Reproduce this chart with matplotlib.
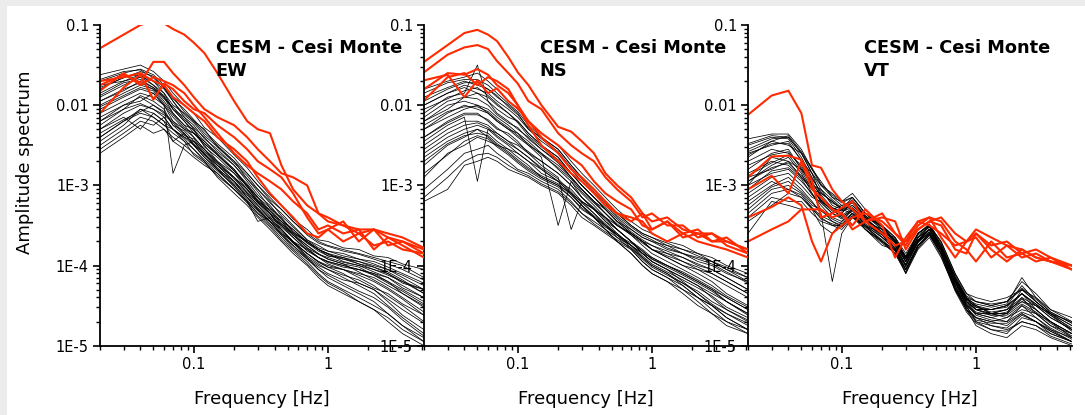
import matplotlib
matplotlib.use('Agg')
import matplotlib.pyplot as plt
import numpy as np
from matplotlib.patches import Rectangle
from matplotlib.ticker import LogLocator, NullFormatter

# frequency grid shared by every spectrum
freq_hz = [0.02, 0.03, 0.04, 0.05, 0.06,
           0.07, 0.085, 0.1, 0.12, 0.15,
           0.2, 0.25, 0.3, 0.37, 0.45,
           0.55, 0.7, 0.85, 1.0, 1.3,
           1.7, 2.2, 2.8, 3.6, 5.2]

# spectra as log10(amplitude)
ew_black = [
    [-1.62, -1.55, -1.50, -1.58, -1.70, -1.85, -2.00, -2.10, -2.28, -2.40, -2.62, -2.78, -2.95, -3.12, -3.25, -3.42, -3.55, -3.68, -3.70, -3.78, -3.80, -3.88, -3.90, -3.98, -4.05],
    [-1.70, -1.60, -1.55, -1.62, -1.75, -1.90, -2.08, -2.20, -2.30, -2.52, -2.70, -2.92, -3.05, -3.22, -3.35, -3.50, -3.68, -3.75, -3.82, -3.85, -3.92, -3.95, -4.02, -4.10, -4.22],
    [-1.80, -1.65, -1.62, -1.70, -1.80, -1.95, -2.15, -2.25, -2.42, -2.55, -2.75, -2.95, -3.12, -3.25, -3.42, -3.55, -3.72, -3.80, -3.86, -3.92, -3.95, -4.02, -4.10, -4.22, -4.30],
    [-1.90, -1.75, -1.65, -1.75, -1.90, -2.05, -2.20, -2.35, -2.45, -2.62, -2.80, -3.02, -3.15, -3.32, -3.45, -3.62, -3.75, -3.86, -3.90, -3.96, -4.00, -4.08, -4.15, -4.28, -4.40],
    [-1.95, -1.80, -1.72, -1.80, -1.95, -2.10, -2.25, -2.30, -2.52, -2.65, -2.85, -3.05, -3.22, -3.35, -3.52, -3.65, -3.82, -3.90, -3.96, -4.02, -4.05, -4.12, -4.20, -4.35, -4.52],
    [-2.05, -1.90, -1.80, -1.85, -2.00, -2.20, -2.30, -2.40, -2.55, -2.72, -2.90, -3.10, -3.25, -3.42, -3.55, -3.72, -3.85, -3.96, -4.02, -4.05, -4.12, -4.20, -4.30, -4.42, -4.62],
    [-2.10, -1.95, -1.85, -1.90, -2.00, -2.85, -2.50, -2.45, -2.62, -2.75, -2.95, -3.15, -3.30, -3.45, -3.62, -3.75, -3.92, -4.02, -4.10, -4.18, -4.22, -4.30, -4.42, -4.55, -4.72],
    [-2.20, -2.00, -1.90, -2.00, -2.10, -2.20, -2.35, -2.50, -2.65, -2.80, -3.02, -3.20, -3.45, -3.40, -3.50, -3.65, -3.80, -3.90, -3.95, -4.00, -4.05, -4.10, -4.15, -4.25, -4.40],
    [-2.30, -2.10, -2.00, -2.05, -2.15, -2.30, -2.40, -2.45, -2.60, -2.75, -2.95, -3.10, -3.25, -3.40, -3.55, -3.70, -3.85, -3.95, -4.02, -4.10, -4.22, -4.30, -4.45, -4.62, -4.80],
    [-2.40, -2.20, -2.10, -2.15, -2.25, -2.35, -2.45, -2.55, -2.70, -2.85, -3.05, -3.20, -3.35, -3.50, -3.65, -3.80, -3.95, -4.10, -4.20, -4.30, -4.40, -4.50, -4.60, -4.75, -4.95],
    [-2.50, -2.30, -2.15, -2.20, -2.30, -2.40, -2.50, -2.60, -2.70, -2.90, -3.10, -3.25, -3.40, -3.55, -3.70, -3.85, -4.00, -4.15, -4.25, -4.35, -4.45, -4.55, -4.70, -4.85, -5.00],
    [-2.60, -2.40, -2.25, -2.35, -2.30, -2.45, -2.55, -2.65, -2.75, -2.85, -3.05, -3.20, -3.35, -3.45, -3.60, -3.70, -3.85, -3.95, -4.00, -4.05, -4.10, -4.15, -4.25, -4.35, -4.50],
    [-2.30, -2.15, -2.30, -2.10, -2.20, -2.45, -2.35, -2.50, -2.60, -2.80, -2.95, -3.15, -3.30, -3.45, -3.55, -3.70, -3.80, -3.90, -3.95, -4.00, -4.05, -4.10, -4.20, -4.30, -4.45],
    [-1.75, -1.70, -1.62, -1.75, -1.85, -2.00, -2.10, -2.20, -2.35, -2.50, -2.70, -2.85, -3.00, -3.15, -3.30, -3.45, -3.60, -3.70, -3.75, -3.80, -3.85, -3.90, -3.95, -4.00, -4.15],
    [-2.15, -2.00, -1.95, -1.85, -2.00, -2.15, -2.30, -2.35, -2.50, -2.70, -2.85, -3.00, -3.20, -3.35, -3.45, -3.60, -3.70, -3.80, -3.85, -3.95, -4.00, -4.05, -4.10, -4.20, -4.30],
    [-1.85, -1.70, -1.65, -1.70, -1.85, -2.05, -2.15, -2.30, -2.45, -2.60, -2.80, -3.00, -3.15, -3.35, -3.55, -3.70, -3.90, -4.05, -4.15, -4.25, -4.35, -4.45, -4.60, -4.75, -4.90],
    [-2.00, -1.85, -1.75, -1.80, -1.90, -2.10, -2.25, -2.40, -2.55, -2.70, -2.90, -3.05, -3.20, -3.30, -3.45, -3.55, -3.70, -3.80, -3.85, -3.90, -3.95, -4.00, -4.05, -4.15, -4.30],
    [-2.45, -2.25, -2.05, -2.10, -2.20, -2.30, -2.40, -2.50, -2.65, -2.80, -3.00, -3.15, -3.30, -3.45, -3.60, -3.75, -3.90, -4.00, -4.05, -4.15, -4.25, -4.35, -4.50, -4.65, -4.85],
    [-1.68, -1.58, -1.56, -1.66, -1.78, -1.92, -2.05, -2.18, -2.32, -2.48, -2.66, -2.85, -3.00, -3.18, -3.30, -3.45, -3.62, -3.72, -3.76, -3.82, -3.86, -3.92, -3.98, -4.05, -4.18],
    [-2.25, -2.05, -1.88, -1.95, -2.05, -2.25, -2.38, -2.42, -2.58, -2.72, -2.92, -3.08, -3.22, -3.38, -3.48, -3.62, -3.78, -3.86, -3.92, -3.98, -4.02, -4.12, -4.22, -4.32, -4.48],
    [-2.55, -2.35, -2.20, -2.25, -2.15, -2.30, -2.42, -2.55, -2.68, -2.82, -3.00, -3.18, -3.32, -3.48, -3.62, -3.78, -3.92, -4.05, -4.12, -4.22, -4.32, -4.40, -4.52, -4.68, -4.88],
    [-1.88, -1.72, -1.68, -1.78, -1.92, -2.02, -2.18, -2.28, -2.40, -2.58, -2.75, -2.92, -3.08, -3.28, -3.40, -3.58, -3.70, -3.80, -3.88, -3.90, -3.98, -4.05, -4.12, -4.20, -4.35],
    [-2.35, -2.18, -2.08, -2.00, -2.08, -2.25, -2.32, -2.45, -2.55, -2.75, -2.90, -3.05, -3.20, -3.35, -3.50, -3.62, -3.78, -3.90, -3.98, -4.05, -4.15, -4.25, -4.38, -4.50, -4.70],
    [-2.02, -1.88, -1.78, -1.82, -1.98, -2.12, -2.28, -2.35, -2.48, -2.62, -2.82, -3.02, -3.18, -3.32, -3.48, -3.60, -3.75, -3.85, -3.92, -3.98, -4.08, -4.18, -4.28, -4.40, -4.58],
    [-1.78, -1.66, -1.58, -1.64, -1.78, -1.95, -2.12, -2.22, -2.38, -2.52, -2.72, -2.88, -3.05, -3.20, -3.38, -3.52, -3.68, -3.78, -3.82, -3.88, -3.92, -3.98, -4.05, -4.12, -4.25],
    [-2.20, -2.05, -1.98, -2.05, -2.12, -2.22, -2.36, -2.48, -2.62, -2.78, -2.98, -3.12, -3.28, -3.42, -3.58, -3.72, -3.88, -3.98, -4.05, -4.12, -4.18, -4.28, -4.35, -4.48, -4.62],
    [-1.95, -1.82, -1.70, -1.78, -1.88, -2.05, -2.20, -2.32, -2.48, -2.62, -2.82, -2.98, -3.15, -3.28, -3.42, -3.58, -3.72, -3.82, -3.88, -3.92, -3.98, -4.02, -4.08, -4.18, -4.35],
    [-2.40, -2.20, -2.05, -2.15, -2.25, -2.30, -2.45, -2.62, -2.72, -2.88, -3.05, -3.22, -3.38, -3.52, -3.68, -3.82, -3.98, -4.12, -4.22, -4.32, -4.45, -4.55, -4.65, -4.80, -4.95],
]
ew_red = [
    [-1.29, -1.12, -1.00, -0.95, -0.98, -1.05, -1.12, -1.22, -1.35, -1.60, -1.95, -2.20, -2.30, -2.35, -2.75, -3.05, -3.25, -3.35, -3.40, -3.50, -3.55, -3.55, -3.60, -3.65, -3.78],
    [-1.75, -1.62, -1.72, -1.46, -1.46, -1.60, -1.75, -1.90, -2.05, -2.15, -2.25, -2.40, -2.55, -2.70, -2.85, -2.90, -3.00, -3.35, -3.45, -3.50, -3.60, -3.55, -3.65, -3.70, -3.85],
    [-2.10, -1.78, -1.62, -1.93, -1.73, -1.80, -1.95, -2.05, -2.10, -2.25, -2.40, -2.55, -2.70, -2.80, -2.90, -3.10, -3.40, -3.60, -3.55, -3.45, -3.70, -3.55, -3.75, -3.70, -3.80],
    [-1.82, -1.60, -1.75, -1.65, -1.70, -1.75, -1.85, -2.00, -2.15, -2.35, -2.60, -2.75, -2.85, -2.95, -3.05, -3.20, -3.35, -3.55, -3.50, -3.60, -3.55, -3.80, -3.65, -3.75, -3.90],
    [-1.70, -1.65, -1.60, -1.70, -1.75, -1.90, -2.00, -2.10, -2.20, -2.40, -2.55, -2.70, -2.90, -3.10, -3.25, -3.40, -3.60, -3.65, -3.55, -3.70, -3.60, -3.75, -3.70, -3.80, -3.85],
]

ns_black = [
    [-1.80, -1.70, -1.65, -1.60, -1.70, -1.80, -1.95, -2.05, -2.20, -2.35, -2.50, -2.70, -2.85, -3.00, -3.15, -3.30, -3.45, -3.55, -3.60, -3.70, -3.75, -3.85, -3.90, -4.00, -4.10],
    [-1.90, -1.78, -1.70, -1.75, -1.80, -1.90, -2.00, -2.10, -2.30, -2.45, -2.60, -2.80, -2.95, -3.10, -3.25, -3.40, -3.55, -3.65, -3.70, -3.80, -3.85, -3.95, -4.00, -4.10, -4.20],
    [-2.00, -1.85, -1.78, -1.85, -1.95, -2.05, -2.15, -2.20, -2.35, -2.50, -2.65, -2.85, -3.00, -3.15, -3.30, -3.45, -3.60, -3.70, -3.75, -3.85, -3.95, -4.05, -4.10, -4.20, -4.35],
    [-2.10, -1.90, -1.85, -1.50, -1.95, -2.10, -2.20, -2.30, -2.40, -2.55, -2.70, -2.90, -3.05, -3.20, -3.35, -3.50, -3.60, -3.70, -3.80, -3.90, -4.00, -4.10, -4.20, -4.35, -4.50],
    [-2.20, -2.00, -1.95, -2.00, -2.05, -2.15, -2.25, -2.35, -2.50, -2.60, -2.80, -2.95, -3.10, -3.25, -3.40, -3.55, -3.70, -3.80, -3.90, -4.00, -4.10, -4.20, -4.30, -4.45, -4.60],
    [-2.30, -2.10, -2.00, -2.05, -2.10, -2.20, -2.30, -2.40, -2.50, -2.65, -3.50, -2.95, -3.15, -3.30, -3.40, -3.55, -3.70, -3.85, -3.95, -4.05, -4.20, -4.35, -4.50, -4.65, -4.80],
    [-2.40, -2.20, -2.10, -2.10, -2.20, -2.30, -2.35, -2.45, -2.60, -2.70, -2.85, -3.00, -3.15, -3.30, -3.45, -3.60, -3.75, -3.90, -4.00, -4.10, -4.25, -4.40, -4.55, -4.70, -4.85],
    [-2.50, -2.30, -2.20, -2.20, -2.25, -2.35, -2.45, -2.50, -2.60, -2.75, -2.90, -3.55, -3.20, -3.30, -3.45, -3.55, -3.70, -3.85, -3.95, -4.05, -4.15, -4.25, -4.35, -4.45, -4.60],
    [-2.60, -2.40, -2.30, -2.25, -2.30, -2.40, -2.50, -2.60, -2.70, -2.80, -2.95, -3.10, -3.25, -3.40, -3.50, -3.65, -3.80, -3.95, -4.05, -4.15, -4.30, -4.45, -4.60, -4.75, -4.85],
    [-2.75, -2.50, -2.40, -2.30, -2.35, -2.45, -2.55, -2.65, -2.75, -2.90, -3.00, -3.10, -3.20, -3.30, -3.40, -3.50, -3.60, -3.70, -3.80, -3.85, -3.90, -4.00, -4.05, -4.15, -4.30],
    [-2.90, -2.60, -2.50, -2.40, -2.45, -2.50, -2.60, -2.70, -2.80, -2.90, -3.00, -3.15, -3.30, -3.40, -3.55, -3.70, -3.85, -4.00, -4.10, -4.20, -4.35, -4.50, -4.60, -4.70, -4.80],
    [-3.05, -2.80, -2.60, -2.55, -2.50, -2.60, -2.70, -2.80, -2.85, -2.95, -3.05, -3.20, -3.35, -3.45, -3.55, -3.65, -3.75, -3.85, -3.95, -4.05, -4.15, -4.25, -4.40, -4.55, -4.70],
    [-3.20, -3.05, -2.75, -2.70, -2.65, -2.70, -2.80, -2.85, -2.90, -3.00, -3.10, -3.25, -3.40, -3.50, -3.60, -3.70, -3.80, -3.95, -4.05, -4.15, -4.25, -4.40, -4.50, -4.60, -4.75],
    [-2.20, -2.05, -1.90, -1.85, -1.90, -2.00, -2.10, -2.20, -2.35, -2.50, -2.65, -2.85, -3.00, -3.15, -3.30, -3.45, -3.55, -3.65, -3.70, -3.75, -3.85, -3.90, -3.95, -4.05, -4.15],
    [-2.45, -2.25, -2.15, -2.95, -2.30, -2.35, -2.45, -2.55, -2.65, -2.80, -2.95, -3.05, -3.20, -3.35, -3.50, -3.60, -3.75, -3.85, -3.90, -4.00, -4.10, -4.20, -4.30, -4.40, -4.55],
    [-2.00, -1.85, -1.75, -1.80, -1.85, -1.95, -2.05, -2.15, -2.30, -2.40, -2.55, -2.75, -2.90, -3.05, -3.20, -3.35, -3.50, -3.60, -3.65, -3.75, -3.80, -3.85, -3.95, -4.05, -4.20],
    [-2.65, -2.45, -2.35, -2.30, -2.40, -2.50, -2.55, -2.60, -2.70, -2.85, -2.95, -3.10, -3.25, -3.40, -3.55, -3.70, -3.85, -4.00, -4.10, -4.20, -4.30, -4.40, -4.50, -4.65, -4.80],
    [-2.30, -2.15, -2.05, -2.00, -2.10, -2.20, -2.30, -2.35, -2.45, -2.60, -2.75, -2.90, -3.05, -3.20, -3.30, -3.45, -3.60, -3.70, -3.80, -3.90, -4.00, -4.05, -4.15, -4.25, -4.40],
    [-1.85, -1.72, -1.68, -1.68, -1.75, -1.85, -1.98, -2.08, -2.25, -2.40, -2.55, -2.75, -2.90, -3.05, -3.20, -3.35, -3.50, -3.60, -3.65, -3.72, -3.80, -3.88, -3.95, -4.02, -4.15],
    [-2.15, -1.95, -1.90, -1.92, -2.00, -2.12, -2.22, -2.28, -2.42, -2.55, -2.72, -2.90, -3.05, -3.20, -3.35, -3.50, -3.62, -3.75, -3.85, -3.95, -4.05, -4.15, -4.25, -4.38, -4.52],
    [-2.55, -2.35, -2.25, -2.22, -2.28, -2.38, -2.48, -2.55, -2.65, -2.78, -2.92, -3.08, -3.22, -3.35, -3.48, -3.62, -3.78, -3.92, -4.02, -4.12, -4.22, -4.35, -4.48, -4.60, -4.72],
    [-2.85, -2.62, -2.45, -2.38, -2.42, -2.52, -2.62, -2.72, -2.82, -2.92, -3.02, -3.15, -3.28, -3.40, -3.52, -3.62, -3.72, -3.82, -3.92, -4.00, -4.08, -4.18, -4.28, -4.40, -4.55],
    [-2.25, -2.08, -2.02, -2.02, -2.08, -2.18, -2.28, -2.38, -2.48, -2.62, -2.78, -2.92, -3.08, -3.22, -3.35, -3.48, -3.62, -3.72, -3.80, -3.88, -3.95, -4.02, -4.10, -4.20, -4.35],
    [-3.15, -2.90, -2.70, -2.62, -2.60, -2.65, -2.75, -2.82, -2.88, -2.98, -3.08, -3.22, -3.35, -3.48, -3.58, -3.68, -3.78, -3.90, -4.00, -4.10, -4.22, -4.32, -4.45, -4.55, -4.68],
    [-1.95, -1.80, -1.72, -1.72, -1.80, -1.88, -2.02, -2.12, -2.28, -2.42, -2.58, -2.78, -2.92, -3.08, -3.22, -3.38, -3.52, -3.62, -3.68, -3.78, -3.85, -3.92, -3.98, -4.08, -4.22],
    [-2.40, -2.22, -2.12, -2.12, -2.18, -2.28, -2.38, -2.48, -2.58, -2.70, -2.85, -3.00, -3.15, -3.28, -3.42, -3.55, -3.70, -3.82, -3.92, -4.02, -4.12, -4.22, -4.32, -4.45, -4.62],
    [-2.70, -2.48, -2.38, -2.35, -2.38, -2.48, -2.58, -2.68, -2.78, -2.88, -2.98, -3.12, -3.25, -3.38, -3.50, -3.62, -3.75, -3.88, -3.98, -4.08, -4.18, -4.28, -4.38, -4.52, -4.65],
    [-2.05, -1.92, -1.82, -1.78, -1.88, -1.98, -2.10, -2.22, -2.38, -2.52, -2.68, -2.85, -3.00, -3.15, -3.28, -3.42, -3.58, -3.68, -3.75, -3.82, -3.90, -3.98, -4.05, -4.15, -4.30],
]
ns_red = [
    [-1.46, -1.25, -1.10, -1.06, -1.12, -1.20, -1.40, -1.59, -1.75, -2.00, -2.27, -2.33, -2.45, -2.60, -2.85, -3.00, -3.15, -3.35, -3.45, -3.40, -3.55, -3.60, -3.60, -3.70, -3.80],
    [-1.59, -1.37, -1.28, -1.25, -1.30, -1.45, -1.60, -1.73, -1.95, -2.05, -2.35, -2.50, -2.60, -2.70, -2.90, -3.05, -3.20, -3.40, -3.35, -3.50, -3.50, -3.65, -3.60, -3.75, -3.85],
    [-1.69, -1.62, -1.90, -1.69, -1.85, -1.79, -1.95, -2.04, -2.20, -2.35, -2.50, -2.65, -2.75, -2.95, -3.10, -3.20, -3.30, -3.50, -3.55, -3.45, -3.60, -3.55, -3.70, -3.65, -3.85],
    [-1.94, -1.65, -1.60, -1.75, -1.65, -1.70, -1.80, -2.00, -2.25, -2.50, -2.70, -2.85, -2.95, -3.10, -3.25, -3.35, -3.40, -3.45, -3.60, -3.70, -3.60, -3.70, -3.75, -3.80, -3.90],
    [-1.80, -1.60, -1.62, -1.55, -1.62, -1.75, -1.85, -2.00, -2.20, -2.40, -2.60, -2.80, -2.90, -3.05, -3.20, -3.35, -3.45, -3.35, -3.55, -3.45, -3.65, -3.60, -3.70, -3.70, -3.80],
]

vt_black = [
    [-2.42, -2.36, -2.36, -2.55, -2.80, -3.00, -3.15, -3.25, -3.20, -3.40, -3.50, -3.65, -3.85, -3.60, -3.50, -3.75, -4.15, -4.40, -4.50, -4.55, -4.50, -4.25, -4.45, -4.60, -4.75],
    [-2.50, -2.40, -2.42, -2.65, -2.90, -3.10, -3.20, -3.30, -3.15, -3.35, -3.55, -3.70, -3.95, -3.65, -3.55, -3.80, -4.20, -4.45, -4.55, -4.60, -4.55, -4.40, -4.50, -4.65, -4.80],
    [-2.60, -2.50, -2.45, -2.70, -2.85, -3.15, -3.30, -3.35, -3.20, -3.45, -3.60, -3.75, -4.00, -3.70, -3.55, -3.80, -4.20, -4.50, -4.60, -4.65, -4.70, -4.50, -4.60, -4.70, -4.85],
    [-2.70, -2.55, -2.60, -2.75, -3.00, -3.05, -3.25, -3.30, -3.25, -3.40, -3.60, -3.65, -3.90, -3.60, -3.50, -3.70, -4.10, -4.35, -4.45, -4.50, -4.45, -4.30, -4.40, -4.55, -4.70],
    [-2.80, -2.60, -2.55, -2.80, -3.00, -3.20, -3.35, -3.40, -3.30, -3.50, -3.65, -3.80, -4.05, -3.75, -3.60, -3.85, -4.25, -4.55, -4.65, -4.70, -4.75, -4.60, -4.70, -4.85, -4.95],
    [-2.85, -2.70, -2.75, -2.90, -3.05, -3.10, -3.20, -3.30, -3.35, -3.45, -3.55, -3.70, -3.90, -3.65, -3.55, -3.75, -4.15, -4.40, -4.50, -4.60, -4.60, -4.45, -4.50, -4.60, -4.80],
    [-2.95, -2.75, -2.65, -2.85, -3.10, -3.25, -3.40, -3.35, -3.20, -3.40, -3.50, -3.70, -3.95, -3.70, -3.55, -3.80, -4.20, -4.45, -4.55, -4.55, -4.50, -4.35, -4.55, -4.70, -4.90],
    [-3.00, -2.85, -2.80, -2.95, -3.10, -3.30, -3.45, -3.50, -3.35, -3.55, -3.70, -3.80, -4.10, -3.75, -3.60, -3.85, -4.25, -4.50, -4.70, -4.75, -4.80, -4.70, -4.75, -4.85, -4.95],
    [-3.10, -2.90, -2.85, -3.00, -3.15, -3.20, -3.30, -3.40, -3.30, -3.50, -3.60, -3.75, -4.00, -3.70, -3.55, -3.80, -4.20, -4.45, -4.60, -4.65, -4.60, -4.40, -4.60, -4.75, -4.85],
    [-3.20, -3.00, -2.90, -3.05, -3.20, -3.35, -4.20, -3.60, -3.40, -3.55, -3.70, -3.85, -4.05, -3.75, -3.60, -3.85, -4.30, -4.55, -4.65, -4.70, -4.65, -4.50, -4.65, -4.80, -4.90],
    [-3.30, -3.05, -3.00, -3.10, -3.25, -3.30, -3.40, -3.45, -3.30, -3.45, -3.65, -3.75, -3.95, -3.65, -3.50, -3.75, -4.15, -4.40, -4.45, -4.50, -4.45, -4.20, -4.35, -4.55, -4.65],
    [-3.40, -3.15, -3.20, -3.20, -3.35, -3.45, -3.50, -3.55, -3.40, -3.50, -3.70, -3.85, -4.10, -3.80, -3.65, -3.90, -4.30, -4.55, -4.75, -4.85, -4.90, -4.75, -4.80, -4.90, -5.00],
    [-3.60, -3.20, -3.25, -3.30, -3.30, -3.40, -3.50, -3.50, -3.35, -3.55, -3.75, -3.80, -4.00, -3.70, -3.55, -3.80, -4.25, -4.50, -4.60, -4.60, -4.55, -4.45, -4.55, -4.70, -4.85],
    [-2.65, -2.45, -2.50, -2.60, -2.85, -3.00, -3.10, -3.20, -3.10, -3.30, -3.50, -3.65, -3.90, -3.60, -3.50, -3.70, -4.10, -4.35, -4.40, -4.45, -4.40, -4.30, -4.45, -4.60, -4.70],
    [-2.90, -2.80, -2.70, -2.80, -2.95, -3.15, -3.30, -3.30, -3.20, -3.40, -3.60, -3.75, -3.95, -3.70, -3.60, -3.80, -4.20, -4.45, -4.55, -4.60, -4.65, -4.55, -4.60, -4.75, -4.90],
    [-3.00, -2.65, -2.70, -2.90, -3.05, -3.20, -3.30, -3.25, -3.30, -3.45, -3.55, -3.70, -3.90, -3.65, -3.55, -3.75, -4.15, -4.40, -4.55, -4.55, -4.50, -4.35, -4.50, -4.65, -4.80],
    [-3.15, -2.95, -3.05, -3.15, -3.30, -3.50, -3.60, -3.45, -3.35, -3.50, -3.65, -3.80, -4.05, -3.75, -3.60, -3.85, -4.30, -4.55, -4.70, -4.80, -4.85, -4.65, -4.70, -4.80, -4.95],
    [-2.55, -2.42, -2.40, -2.60, -2.80, -2.95, -3.15, -3.20, -3.15, -3.35, -3.50, -3.70, -3.90, -3.60, -3.50, -3.75, -4.15, -4.45, -4.50, -4.60, -4.60, -4.30, -4.45, -4.60, -4.75],
    [-2.48, -2.38, -2.40, -2.60, -2.85, -3.05, -3.18, -3.28, -3.18, -3.38, -3.52, -3.68, -3.90, -3.62, -3.52, -3.78, -4.18, -4.42, -4.52, -4.58, -4.55, -4.35, -4.48, -4.62, -4.78],
    [-2.75, -2.62, -2.58, -2.78, -2.98, -3.12, -3.28, -3.32, -3.25, -3.42, -3.58, -3.72, -3.95, -3.68, -3.55, -3.78, -4.18, -4.45, -4.55, -4.62, -4.62, -4.48, -4.58, -4.72, -4.88],
    [-3.05, -2.82, -2.78, -2.92, -3.12, -3.22, -3.35, -3.42, -3.32, -3.48, -3.62, -3.78, -4.02, -3.72, -3.58, -3.82, -4.22, -4.48, -4.62, -4.68, -4.70, -4.58, -4.65, -4.78, -4.92],
    [-3.25, -3.02, -2.95, -3.08, -3.22, -3.32, -3.42, -3.48, -3.35, -3.52, -3.68, -3.82, -4.05, -3.75, -3.62, -3.85, -4.28, -4.52, -4.68, -4.72, -4.72, -4.60, -4.70, -4.82, -4.95],
    [-2.62, -2.48, -2.48, -2.68, -2.92, -3.08, -3.22, -3.28, -3.22, -3.38, -3.55, -3.68, -3.92, -3.65, -3.52, -3.75, -4.15, -4.42, -4.48, -4.52, -4.48, -4.15, -4.40, -4.58, -4.72],
    [-2.88, -2.72, -2.62, -2.82, -3.05, -3.18, -3.32, -3.38, -3.28, -3.45, -3.62, -3.78, -3.98, -3.70, -3.58, -3.82, -4.22, -4.48, -4.58, -4.62, -4.58, -4.42, -4.55, -4.70, -4.85],
    [-3.45, -3.25, -3.10, -3.15, -3.28, -3.38, -3.45, -3.52, -3.38, -3.55, -3.72, -3.85, -4.08, -3.78, -3.62, -3.88, -4.32, -4.58, -4.72, -4.80, -4.82, -4.70, -4.75, -4.88, -4.98],
    [-2.58, -2.45, -2.38, -2.58, -2.78, -2.98, -3.12, -3.22, -3.15, -3.35, -3.52, -3.68, -3.88, -3.60, -3.48, -3.72, -4.12, -4.38, -4.45, -4.48, -4.45, -4.28, -4.42, -4.58, -4.72],
    [-2.95, -2.78, -2.72, -2.88, -3.02, -3.18, -3.28, -3.32, -3.28, -3.42, -3.58, -3.72, -3.92, -3.68, -3.55, -3.78, -4.18, -4.42, -4.52, -4.55, -4.52, -4.35, -4.48, -4.62, -4.82],
    [-3.35, -3.10, -3.05, -3.12, -3.28, -3.42, -3.48, -3.52, -3.38, -3.52, -3.70, -3.82, -4.05, -3.78, -3.62, -3.85, -4.28, -4.52, -4.65, -4.75, -4.78, -4.62, -4.70, -4.82, -4.95],
]
vt_red = [
    [-2.12, -1.88, -1.82, -2.10, -2.75, -2.78, -3.05, -3.20, -3.30, -3.45, -3.35, -3.60, -3.70, -3.45, -3.50, -3.60, -3.75, -3.70, -3.60, -3.75, -3.70, -3.85, -3.80, -3.90, -4.00],
    [-2.90, -2.64, -2.63, -2.68, -2.95, -3.40, -3.35, -3.28, -3.20, -3.45, -3.40, -3.45, -3.80, -3.55, -3.45, -3.50, -3.80, -3.85, -3.60, -3.80, -3.95, -3.80, -3.90, -3.95, -4.05],
    [-3.05, -2.88, -3.10, -2.70, -3.05, -3.15, -3.30, -3.35, -3.50, -3.30, -3.50, -3.90, -3.65, -3.45, -3.40, -3.65, -3.90, -3.70, -3.65, -3.90, -3.75, -3.90, -3.85, -3.95, -4.00],
    [-3.40, -3.27, -3.15, -3.25, -3.70, -3.95, -3.60, -3.50, -3.40, -3.35, -3.45, -3.60, -3.75, -3.50, -3.40, -3.45, -3.70, -3.80, -3.95, -3.70, -3.90, -3.85, -3.95, -3.90, -4.05],
    [-3.70, -3.55, -3.45, -3.30, -3.30, -3.30, -3.40, -3.35, -3.55, -3.45, -3.60, -3.75, -3.70, -3.55, -3.45, -3.40, -3.60, -3.70, -3.55, -3.65, -3.75, -3.80, -3.90, -3.95, -4.00],
]

components = ['EW', 'NS', 'VT']
black_sets = [ew_black, ns_black, vt_black]
red_sets = [ew_red, ns_red, vt_red]

y_ticks = [1e-5, 1e-4, 1e-3, 1e-2, 1e-1]
y_tick_labels = ['1E-5', '1E-4', '1E-3', '0.01', '0.1']
x_ticks = [0.1, 1]
x_tick_labels = ['0.1', '1']

W, H = 1085, 415
fig = plt.figure(figsize=(W / 100, H / 100), dpi=100, facecolor='#ececec')
fig.patches.append(Rectangle((7 / W, 0), 1, 1 - 6 / H, transform=fig.transFigure,
                             facecolor='white', edgecolor='none', zorder=0))

red = '#ff2a00'
panel_left = [100, 424, 748]
for i, comp in enumerate(components):
    ax = fig.add_axes([panel_left[i] / W, 1 - 345.7 / H, 324 / W, 320.7 / H])
    ax.set_facecolor('none')
    ax.set_zorder(3 - i)

    for spec in black_sets[i]:
        ax.plot(freq_hz, 10 ** np.array(spec), color='black', lw=0.55)
    for spec in red_sets[i]:
        ax.plot(freq_hz, 10 ** np.array(spec), color=red, lw=1.5)

    ax.set_xscale('log')
    ax.set_yscale('log')
    ax.set_xlim(0.02, 5.2)
    ax.set_ylim(1e-5, 0.1)

    for s in ['top', 'right']:
        ax.spines[s].set_visible(False)
    for s in ['left', 'bottom']:
        ax.spines[s].set_linewidth(1.3)

    ax.set_yticks(y_ticks)
    ax.set_yticklabels(y_tick_labels)
    ax.set_xticks(x_ticks)
    ax.set_xticklabels(x_tick_labels)
    ax.yaxis.set_minor_locator(LogLocator(base=10, subs=np.arange(2, 10)))
    ax.xaxis.set_minor_locator(LogLocator(base=10, subs=np.arange(2, 10)))
    ax.yaxis.set_minor_formatter(NullFormatter())
    ax.xaxis.set_minor_formatter(NullFormatter())
    ax.tick_params(which='major', direction='out', length=5, width=1.2, labelsize=10.5, pad=3)
    ax.tick_params(which='minor', direction='out', length=3, width=1.0)

    ax.text(0.357, 0.955, 'CESM - Cesi Monte\n' + comp, transform=ax.transAxes,
            ha='left', va='top', fontsize=12.8, fontweight='bold', linespacing=1.3)

    fig.text((panel_left[i] + 162) / W, 1 - 399 / H, 'Frequency [Hz]',
             ha='center', va='center', fontsize=13)

fig.text(25 / W, 1 - 162 / H, 'Amplitude spectrum', rotation=90,
         ha='center', va='center', fontsize=13)

fig.savefig('out.png', dpi=100, facecolor=fig.get_facecolor())
